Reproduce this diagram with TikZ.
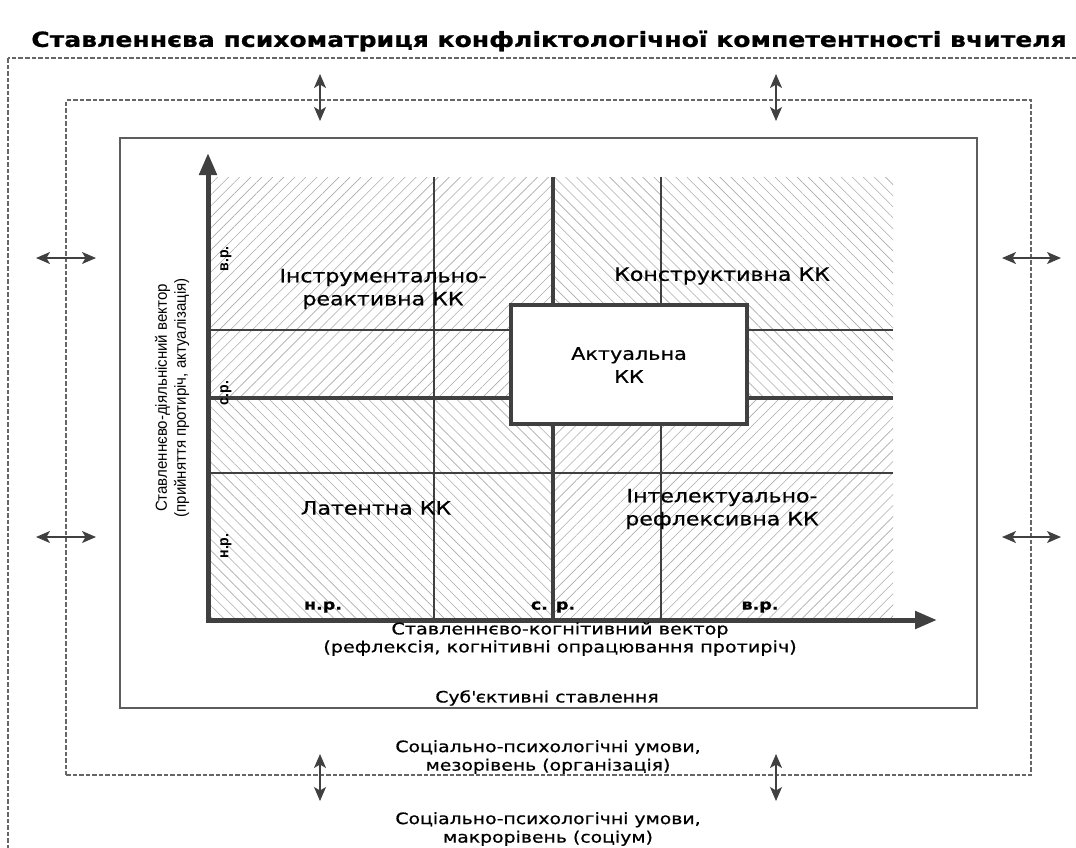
\documentclass[tikz,border=0pt]{standalone}
\usepackage{fontspec}
\setmainfont[FakeStretch=1.2,FakeBold=0.7]{DejaVu Sans}
\newfontfamily\narrowfont[FakeStretch=0.94]{Liberation Sans}
\usetikzlibrary{patterns.meta,arrows.meta}
\definecolor{ln}{HTML}{404040}
\definecolor{hatch}{HTML}{ABABAB}
\tikzset{
  dashbox/.style={draw=ln!80, line width=1.1pt, dash pattern=on 4.5pt off 2pt},
  dblarrow/.style={draw=ln, line width=1.3pt, {Stealth[length=14pt,width=12pt,inset=3.5pt]}-{Stealth[length=14pt,width=12pt,inset=3.5pt]}},
  thinline/.style={draw=ln, line width=1.3pt},
  thickline/.style={draw=ln, line width=4pt},
  axisline/.style={draw=ln, line width=5pt, -{Triangle[length=22pt,width=17pt]}},
  hatchne/.style={pattern={Lines[angle=45,distance=7.8pt,line width=0.6pt]}, pattern color=hatch},
  hatchnw/.style={pattern={Lines[angle=-45,distance=7.8pt,line width=0.6pt]}, pattern color=hatch},
  region/.style={font=\fontsize{18.4}{23}\selectfont, align=center, inner sep=0pt},
  levellbl/.style={font=\fontsize{15.7}{18.5}\selectfont, align=center, inner sep=0pt},
  tick/.style={font=\bfseries\fontsize{14.6}{15}\selectfont, inner sep=0pt},
  vtick/.style={font=\narrowfont\bfseries\fontsize{15}{15}\selectfont, inner sep=0pt, rotate=90},
}
\begin{document}
\begin{tikzpicture}[x=1pt,y=-1pt]
\useasboundingbox (0,0) rectangle (1076,847);
% title
\node[font=\bfseries\fontsize{20.9}{24}\selectfont, inner sep=0pt] (title) at (549,41) {Ставленнєва психоматриця конфліктологічної компетентності вчителя};
% outer boxes
\path[dashbox] (8,58) rectangle (1095,870);
\node[dashbox, minimum width=965pt, minimum height=675pt, inner sep=0pt] (meso) at (548.5,437.5) {};
\node[draw=ln!85, line width=1.4pt, minimum width=857pt, minimum height=570pt, inner sep=0pt] (subj) at (548.5,423) {};
% hatching
\path[hatchne] (208,177) rectangle (553,398);
\path[hatchnw] (553,177) rectangle (893,398);
\path[hatchnw] (208,398) rectangle (553,620);
\path[hatchne] (553,398) rectangle (893,620);
% grid
\coordinate (v1t) at (434,177); \coordinate (v1b) at (434,620);
\coordinate (v2t) at (661,177); \coordinate (v2b) at (661,620);
\coordinate (h1l) at (208,330); \coordinate (h1r) at (893,330);
\coordinate (h2l) at (208,473); \coordinate (h2r) at (893,473);
\coordinate (vmt) at (553,177); \coordinate (vmb) at (553,620);
\coordinate (hml) at (208,398); \coordinate (hmr) at (893,398);
\draw[thinline] (v1t) -- (v1b);
\draw[thinline] (v2t) -- (v2b);
\draw[thinline] (h1l) -- (h1r);
\draw[thinline] (h2l) -- (h2r);
\draw[thickline] (vmt) -- (vmb);
\draw[thickline] (hml) -- (hmr);
% axes
\coordinate (origin) at (208,620);
\coordinate (ytop) at (208,153);
\coordinate (xend) at (937,620);
\draw[axisline] (208,622.5) -- (ytop);
\draw[axisline] (205.5,620) -- (xend);
% central box
\node[draw=ln, line width=4pt, fill=white, minimum width=236pt, minimum height=119pt, inner sep=0pt] (act) at (629,364.5) {};
\node[region, font=\fontsize{17.3}{23}\selectfont] (actl) at (629,365) {Актуальна\\КК};
% region labels
\node[region] (instr) at (383,289) {Інструментально-\\реактивна КК};
\node[region] (constr) at (722,276) {Конструктивна КК};
\node[region] (lat) at (376,508) {Латентна КК};
\node[region] (intel) at (722,509) {Інтелектуально-\\рефлексивна КК};
% ticks
\node[vtick] (yv) at (226,259) {в.р.};
\node[vtick] (ys) at (226,393) {с.р.};
\node[vtick] (yn) at (226,546) {н.р.};
\node[tick] (xn) at (323,607) {н.р.};
\node[tick] (xs) at (553,607) {с. р.};
\node[tick] (xv) at (760,607) {в.р.};
% axis labels
\node[font=\fontsize{16}{18}\selectfont, align=center, inner sep=0pt] (xlab) at (560,639) {Ставленнєво-когнітивний вектор\\(рефлексія, когнітивні опрацювання протиріч)};
\node[font=\narrowfont\fontsize{16}{19}\selectfont, align=center, inner sep=0pt, rotate=90] (ylab) at (172,398) {Ставленнєво-діяльнісний вектор\\(прийняття протиріч, актуалізація)};
% level labels
\node[levellbl] (subjl) at (547,698) {Суб\textquotesingle єктивні ставлення};
\node[levellbl] (mesol) at (548,757) {Соціально-психологічні умови,\\мезорівень (організація)};
\node[levellbl] (macrol) at (548,829) {Соціально-психологічні умови,\\макрорівень (соціум)};
% exchange arrows
\coordinate (a1t) at (320,74); \coordinate (a1b) at (320,121);
\coordinate (a2t) at (776,74); \coordinate (a2b) at (776,121);
\coordinate (a3t) at (320,754); \coordinate (a3b) at (320,801);
\coordinate (a4t) at (776,754); \coordinate (a4b) at (776,801);
\coordinate (a5l) at (36,258); \coordinate (a5r) at (96,258);
\coordinate (a6l) at (36,537); \coordinate (a6r) at (96,537);
\coordinate (a7l) at (1002,258); \coordinate (a7r) at (1061,258);
\coordinate (a8l) at (1002,537); \coordinate (a8r) at (1061,537);
\draw[dblarrow] (a1t) -- (a1b);
\draw[dblarrow] (a2t) -- (a2b);
\draw[dblarrow] (a3t) -- (a3b);
\draw[dblarrow] (a4t) -- (a4b);
\draw[dblarrow] (a5l) -- (a5r);
\draw[dblarrow] (a6l) -- (a6r);
\draw[dblarrow] (a7l) -- (a7r);
\draw[dblarrow] (a8l) -- (a8r);
\end{tikzpicture}
\end{document}
